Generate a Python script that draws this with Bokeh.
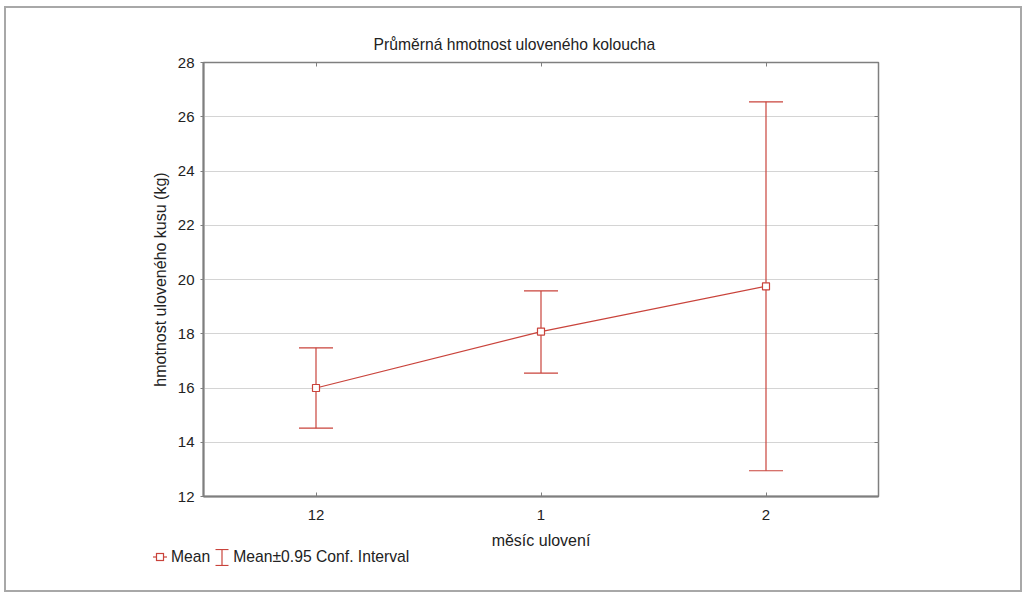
from bokeh.plotting import figure
from bokeh.models import (ColumnDataSource, Whisker, TeeHead, Div,
                          LinearAxis, CategoricalAxis, FixedTicker, Range1d)
from bokeh.layouts import column
from bokeh.embed import file_html
from bokeh.resources import INLINE

months = ["12", "1", "2"]
mean_kg = [16.0, 18.08, 19.75]
upper_kg = [17.48, 19.58, 26.55]
lower_kg = [14.52, 16.55, 12.95]
y_ticks = [12, 14, 16, 18, 20, 22, 24, 26, 28]
legend_labels = ["Mean", "Mean±0.95 Conf. Interval"]

RED = "#c9433b"
AX = "#7f7f7f"
FONT = "Liberation Sans"

src = ColumnDataSource(dict(m=months, mean=mean_kg, up=upper_kg, lo=lower_kg))

p = figure(x_range=months, y_range=Range1d(12, 28), width=1014, height=548,
           output_backend="svg", toolbar_location=None,
           min_border_left=197, min_border_right=142, min_border_top=54, min_border_bottom=60)
p.x_range.range_padding = 0

p.title.text = "Průměrná hmotnost uloveného koloucha"
p.title.align = "left"
p.title.offset = 170
p.title.text_font = FONT
p.title.text_font_size = "15.7px"
p.title.text_font_style = "normal"
p.title.text_color = "#222222"
p.title.standoff = 20

p.outline_line_color = AX
p.outline_line_width = 1.5

p.xgrid.grid_line_color = None
p.ygrid.grid_line_color = "#d4d4d4"
p.ygrid.grid_line_width = 1

p.yaxis.ticker = FixedTicker(ticks=y_ticks)
for ax in (p.xaxis[0], p.yaxis[0]):
    ax.axis_line_color = AX
    ax.axis_line_width = 2
    ax.major_tick_line_color = AX
    ax.minor_tick_line_color = None
    ax.major_label_text_font = FONT
    ax.major_label_text_font_size = "15px"
    ax.major_label_text_color = "#222222"
    ax.axis_label_text_font = FONT
    ax.axis_label_text_font_size = "16px"
    ax.axis_label_text_font_style = "normal"
    ax.axis_label_text_color = "#222222"

p.xaxis.axis_label = "měsíc ulovení"
p.xaxis.major_tick_in = 4
p.xaxis.major_tick_out = 0
p.xaxis.major_label_standoff = 13
p.xaxis.axis_label_standoff = 9

p.yaxis.axis_label = "hmotnost uloveného kusu (kg)"
p.yaxis.major_tick_in = 0
p.yaxis.major_tick_out = 3
p.yaxis.major_label_standoff = 6
p.yaxis.axis_label_standoff = 6

top = CategoricalAxis(major_label_text_font_size="0px", axis_line_color=None,
                      major_tick_in=4, major_tick_out=0, major_tick_line_color=AX,
                      minor_tick_line_color=None, major_label_standoff=0)
right = LinearAxis(ticker=FixedTicker(ticks=y_ticks), major_label_text_font_size="0px",
                   axis_line_color=None, major_tick_in=4, major_tick_out=0,
                   major_tick_line_color=AX, minor_tick_line_color=None, major_label_standoff=0)
p.add_layout(top, "above")
p.add_layout(right, "right")

wh = Whisker(base="m", upper="up", lower="lo", source=src, line_color=RED, line_width=1.2,
             upper_head=TeeHead(size=34, line_color=RED, line_width=1.2),
             lower_head=TeeHead(size=34, line_color=RED, line_width=1.2))
p.add_layout(wh)

p.line("m", "mean", source=src, line_color=RED, line_width=1.2)
p.scatter("m", "mean", source=src, marker="square", size=7, line_color=RED,
          fill_color="white", line_width=1.2)

# legend (HTML strip under the chart)
icon_mean = ('<svg width="14" height="10" style="display:inline-block;vertical-align:middle">'
             f'<line x1="0" y1="5" x2="14" y2="5" stroke="{RED}" stroke-width="1.2"/>'
             f'<rect x="3.5" y="1.5" width="7" height="7" fill="white" stroke="{RED}" stroke-width="1.2"/>'
             '</svg>')
icon_ci = ('<svg width="14" height="17" style="display:inline-block;vertical-align:middle">'
           f'<line x1="7" y1="0.5" x2="7" y2="16.5" stroke="{RED}" stroke-width="1.2"/>'
           f'<line x1="0.5" y1="0.5" x2="13.5" y2="0.5" stroke="{RED}" stroke-width="1.2"/>'
           f'<line x1="0.5" y1="16.5" x2="13.5" y2="16.5" stroke="{RED}" stroke-width="1.2"/>'
           '</svg>')
legend_html = (
    f'<div style="font-family:\'{FONT}\';font-size:15.7px;color:#222222;'
    'padding-left:147px;padding-top:6px;line-height:18px;white-space:nowrap;'
    'display:flex;align-items:center">'
    f'{icon_mean}<span style="margin-left:4px;margin-right:5px">{legend_labels[0]}</span>'
    f'{icon_ci}<span style="margin-left:4px">{legend_labels[1]}</span></div>'
)
leg = Div(text=legend_html, width=700, height=48, margin=0,
          styles={"margin": "-14px 0px 0px 0px"})

layout = column(p, leg, spacing=0)
layout.styles = {"border": "2px solid #a8a8a8", "margin-left": "4px", "margin-top": "6px"}

open("out.html", "w").write(file_html(layout, INLINE))
